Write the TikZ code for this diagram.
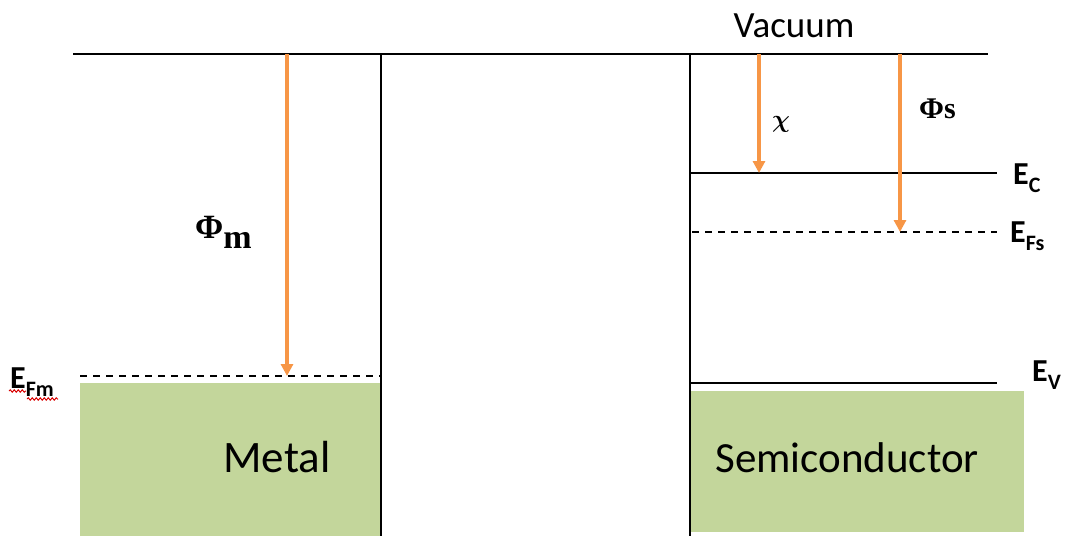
\documentclass[tikz,border=0pt]{standalone}
\usepackage{fontspec}
\setmainfont{Carlito}
\newfontfamily\greekfont{Liberation Serif}
\usetikzlibrary{arrows.meta,decorations.pathmorphing}
\definecolor{bandgreen}{HTML}{C3D69B}
\definecolor{arroworange}{HTML}{F79646}
\newcommand{\lvl}[2]{{\fontsize{32}{32}\selectfont\bfseries #1\raisebox{-8pt}{\fontsize{22}{22}\selectfont #2}}}
\begin{document}
\begin{tikzpicture}[x=1pt,y=-1pt,
  level/.style={line width=2.6pt,black},
  fermi/.style={line width=2.2pt,black,dash pattern=on 7pt off 6pt},
  wf/.style={line width=3.2pt,arroworange,-{Triangle[length=12pt,width=12pt]}},
  band/.style={fill=bandgreen,draw=none,inner sep=0pt,anchor=north west},
  bandtext/.style={font=\fontsize{45}{45}\selectfont,anchor=base,inner sep=0pt},
  lbl/.style={anchor=base west,inner sep=0pt},
  squiggle/.style={red!85!black,line width=1pt,decorate,decoration={snake,amplitude=1.2pt,segment length=4pt}}]
\useasboundingbox (0,0) rectangle (1074,536);

% filled bands
\node[band,minimum width=300pt,minimum height=153pt] (metalbox) at (80,383) {};
\node[band,minimum width=334pt,minimum height=141pt] (semibox) at (690,391) {};
\node[bandtext] (metaltxt) at (277,472) {Metal};
\node[bandtext,font=\fontsize{43}{43}\selectfont] (semitxt) at (847,472) {Semiconductor};

% reference points
\coordinate (vacL) at (73,54);
\coordinate (vacR) at (988,54);
\coordinate (wallAtop) at (381,54);
\coordinate (wallAbot) at (381,536);
\coordinate (wallBtop) at (690,54);
\coordinate (wallBbot) at (690,536);
\coordinate (efmL) at (80,376);
\coordinate (efmR) at (381,376);
\coordinate (ecL) at (690,173);
\coordinate (ecR) at (997,173);
\coordinate (efsL) at (692,232);
\coordinate (efsR) at (997,232);
\coordinate (evL) at (690,383);
\coordinate (evR) at (997,383);
\coordinate (phimTop) at (287,54);
\coordinate (phimBot) at (287,376);
\coordinate (chiTop) at (759,54);
\coordinate (chiBot) at (759,173);
\coordinate (phisTop) at (900,54);
\coordinate (phisBot) at (900,232);

% energy levels and walls
\draw[level] (vacL) -- (vacR);
\draw[level] (wallAtop) -- (wallAbot);
\draw[level] (wallBtop) -- (wallBbot);
\draw[level] (ecL) -- (ecR);
\draw[level] (evL) -- (evR);
\draw[fermi] (efmL) -- (efmR);
\draw[fermi] (efsL) -- (efsR);

% work function and affinity arrows
\draw[wf] (phimTop) -- (phimBot);
\draw[wf] (chiTop) -- (chiBot);
\draw[wf] (phisTop) -- (phisBot);

% labels
\node[anchor=base,inner sep=0pt,font=\fontsize{37}{37}\selectfont] (vac) at (794,37) {Vacuum};
\node[lbl] (phim) at (195,238) {\greekfont\bfseries\fontsize{34}{34}\selectfont Φ\raisebox{-10pt}{m}};
\node[lbl,font=\fontsize{34}{34}\selectfont\mathversion{bold}] (chi) at (772,127) {$\chi$};
\node[lbl] (phis) at (919,118) {\greekfont\bfseries\fontsize{30}{30}\selectfont Φs};
\node[lbl] (ec) at (1013,184) {\lvl{E}{C}};
\node[lbl] (efs) at (1010,242) {\lvl{E}{Fs}};
\node[lbl] (ev) at (1032,381) {\lvl{E}{V}};
\node[lbl] (efm) at (10,388) {\lvl{E}{Fm}};

% proofing marks under the metal Fermi label
\draw[squiggle] (9,391) -- (26,391);
\draw[squiggle] (27,399) -- (58,399);
\end{tikzpicture}
\end{document}
